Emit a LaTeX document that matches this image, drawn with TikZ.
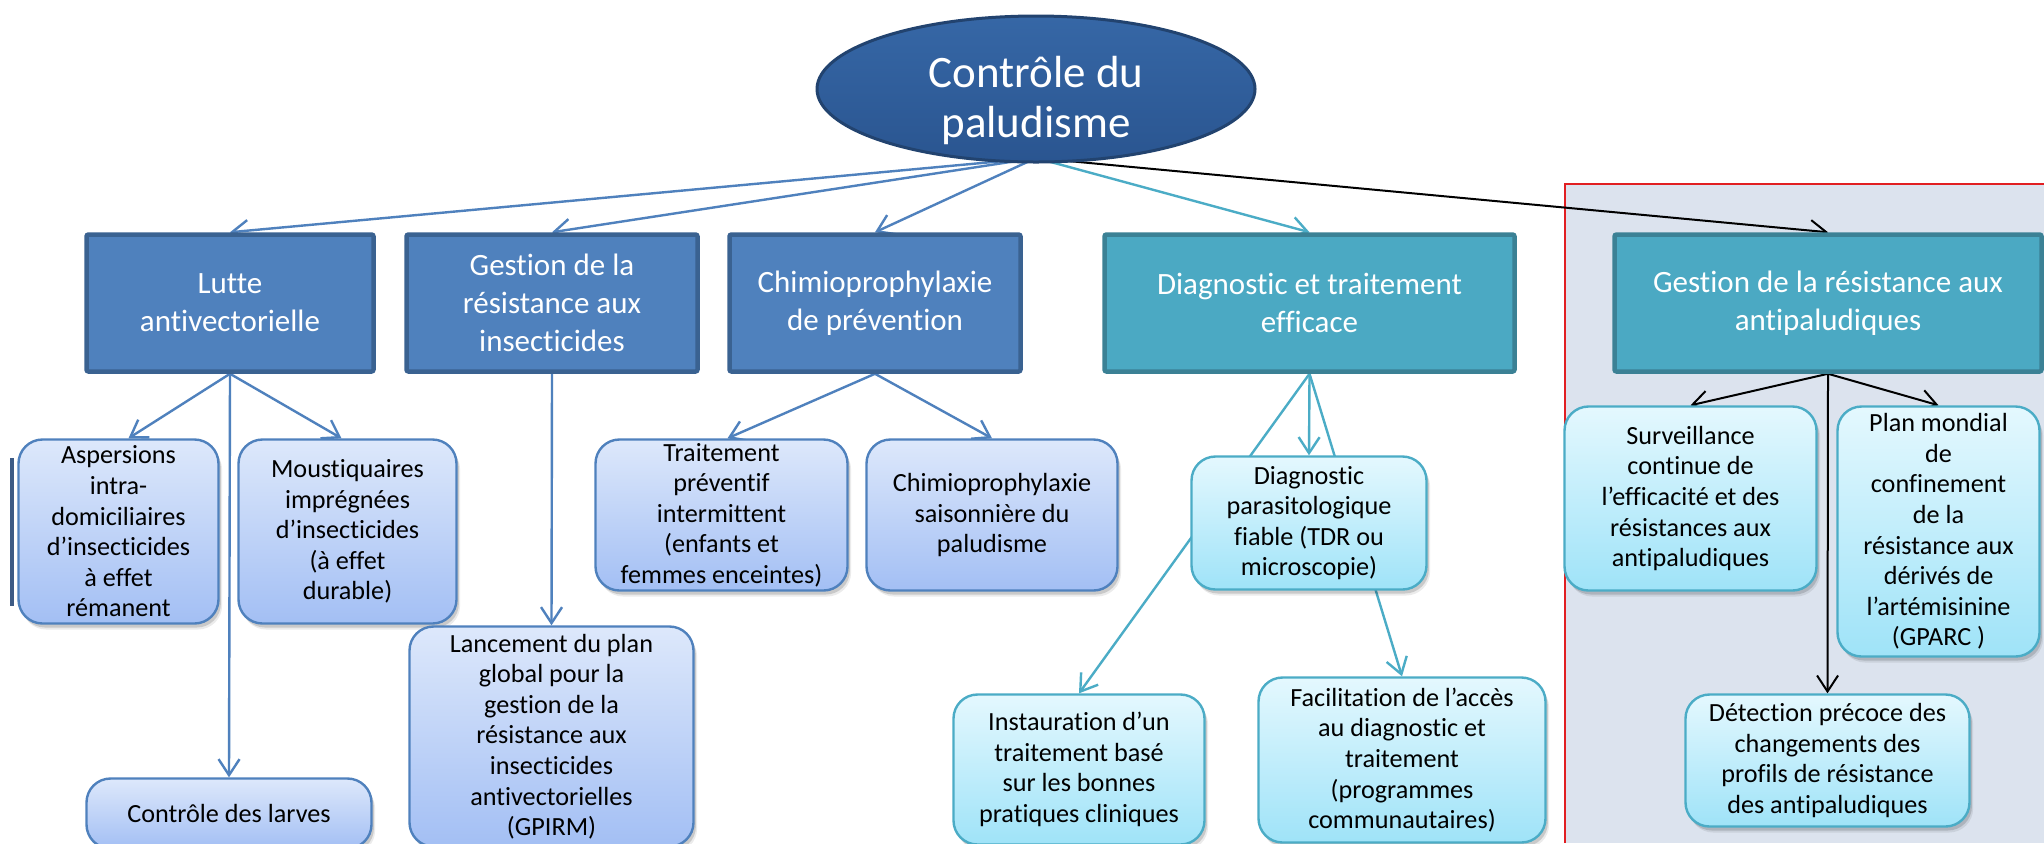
\documentclass[tikz,border=0pt]{standalone}
\usepackage{fontspec}
\setmainfont{Carlito}[Ligatures=NoCommon]
\usetikzlibrary{arrows.meta,shapes.geometric,shadows}

% palette
\definecolor{rootA}{HTML}{3667A6}
\definecolor{rootB}{HTML}{2A5590}
\definecolor{rootedge}{HTML}{22436F}
\definecolor{topblue}{HTML}{4F81BD}
\definecolor{topblueedge}{HTML}{3A6291}
\definecolor{topteal}{HTML}{4BA9C3}
\definecolor{toptealedge}{HTML}{3B8195}
\definecolor{subbluetop}{HTML}{DDE8FB}
\definecolor{subbluebot}{HTML}{A3BFF4}
\definecolor{subblueedge}{HTML}{4F81BD}
\definecolor{subtealtop}{HTML}{E4F8FE}
\definecolor{subtealbot}{HTML}{9FE3F8}
\definecolor{subtealedge}{HTML}{4BACC6}
\definecolor{linkblue}{HTML}{4F81BD}
\definecolor{linkteal}{HTML}{4BACC6}
\definecolor{panelfill}{HTML}{DCE3EE}
\definecolor{paneledge}{HTML}{E11F22}
\definecolor{edgebar}{HTML}{3D5B85}

\pgfdeclarelayer{panel}
\pgfdeclarelayer{links}
\pgfsetlayers{panel,links,main}

\tikzset{
  rootnode/.style={ellipse, draw=rootedge, line width=1.5pt,
    top color=rootA, bottom color=rootB, text=white,
    inner sep=0pt, font=\fontsize{22.5pt}{25pt}\selectfont},
  topbox/.style={draw, line width=2.25pt, rounded corners=1pt, text=white,
    align=center, inner sep=0pt, font=\fontsize{15.5pt}{19pt}\selectfont},
  bluetop/.style={topbox, fill=topblue, draw=topblueedge},
  tealtop/.style={topbox, fill=topteal, draw=toptealedge},
  subbox/.style={draw, line width=1.2pt, rounded corners=12pt, align=center,
    inner sep=0pt, font=\fontsize{13.1pt}{15.3pt}\selectfont,
    drop shadow={shadow xshift=1.8pt, shadow yshift=-3pt, fill=black, opacity=0.08},
    drop shadow={shadow xshift=1.2pt, shadow yshift=-2pt, fill=black, opacity=0.14}},
  bluesub/.style={subbox, draw=subblueedge, top color=subbluetop, bottom color=subbluebot},
  tealsub/.style={subbox, draw=subtealedge, top color=subtealtop, bottom color=subtealbot},
  link/.style={line width=1.2pt, -{Straight Barb[length=8pt,width=10.5pt]}},
  bluelink/.style={link, draw=linkblue},
  teallink/.style={link, draw=linkteal},
  blacklink/.style={link, draw=black, line width=1pt},
}

% box placed by its outer edges, given in pixels
\newcommand\pxnode[7]{%
  \node[#1, minimum width={(#5-#3-3)*0.5pt}, minimum height={(#6-#4-3)*0.5pt}]
    (#2) at ({(#3+#5)/2},{(#4+#6)/2}) {#7};}

\begin{document}
\begin{tikzpicture}[x=0.5pt,y=-0.5pt]
\useasboundingbox (0,0) rectangle (2044,843);

% framed panel on the right, and the dark edge left of the first box
\begin{pgfonlayer}{panel}
  \fill[white] (0,0) rectangle (2044,843);
  \fill[panelfill] (1565,184) rectangle (2044,843);
  \draw[paneledge, line width=1.2pt] (1565,843) -- (1565,184) -- (2044,184);
  \draw[edgebar, line width=2pt] (12,458) -- (12,606);
\end{pgfonlayer}

% root
\node[rootnode, minimum width=219pt, minimum height=73pt] (root) at (1036,89)
  {\raisebox{-6.5pt}[\height][\depth]{\begin{tabular}{@{}c@{}}Contrôle du\\paludisme\end{tabular}}};

% first level
\pxnode{bluetop}{lutte}{85}{233}{375}{373}{Lutte\\antivectorielle}
\pxnode{bluetop}{gri}{405}{233}{699}{373}{Gestion de la\\résistance aux\\insecticides}
\pxnode{bluetop}{chimio}{728}{233}{1022}{373}{Chimioprophylaxie\\de prévention}
\pxnode{tealtop}{diag}{1103}{233}{1516}{373}{Diagnostic et traitement\\efficace}
\pxnode{tealtop}{gra}{1613}{233}{2043}{373}{Gestion de la résistance aux\\antipaludiques}

% second level
\pxnode{bluesub}{asp}{17}{438}{220}{625}{Aspersions\\intra-\\domiciliaires\\d’insecticides\\à effet\\rémanent}
\pxnode{bluesub}{mou}{237}{438}{458}{625}{Moustiquaires\\imprégnées\\d’insecticides\\(à effet\\durable)}
\pxnode{bluesub}{larves}{85}{777}{373}{850}{Contrôle des larves}
\pxnode{bluesub}{lanc}{408}{625}{695}{848}{Lancement du plan\\global pour la\\gestion de la\\résistance aux\\insecticides\\antivectorielles\\(GPIRM)}
\pxnode{bluesub}{tpi}{594}{438}{849}{592}{Traitement\\préventif\\intermittent\\(enfants et\\femmes enceintes)}
\pxnode{bluesub}{csp}{865}{438}{1119}{592}{Chimioprophylaxie\\saisonnière du\\paludisme}
\pxnode{tealsub}{dpf}{1190}{455}{1428}{591}{Diagnostic\\parasitologique\\fiable (TDR ou\\microscopie)}
\pxnode{tealsub}{inst}{952}{693}{1206}{846}{Instauration d’un\\traitement basé\\sur les bonnes\\pratiques cliniques}
\pxnode{tealsub}{fac}{1257}{676}{1547}{844}{Facilitation de l’accès\\au diagnostic et\\traitement\\(programmes\\communautaires)}
\pxnode{tealsub}{surv}{1563}{405}{1818}{592}{Surveillance\\continue de\\l’efficacité et des\\résistances aux\\antipaludiques}
\pxnode{tealsub}{plan}{1836}{405}{2041}{658}{Plan mondial\\de\\confinement\\de la\\résistance aux\\dérivés de\\l’artémisinine\\(GPARC )}
\pxnode{tealsub}{det}{1684}{693}{1971}{828}{Détection précoce des\\changements des\\profils de résistance\\des antipaludiques}

% connectors
\begin{pgfonlayer}{links}
  \coordinate (hub) at (1036,158);
  \draw[bluelink] (hub) -- (lutte.north);
  \draw[bluelink] (hub) -- (gri.north);
  \draw[bluelink] (hub) -- (chimio.north);
  \draw[teallink] (hub) -- (diag.north);
  \draw[blacklink] (hub) -- (gra.north);

  \draw[bluelink] (lutte.south) -- ([xshift=5pt]asp.north);
  \draw[bluelink] (lutte.south) -- ([xshift=-3pt]mou.north);
  \draw[bluelink] (lutte.south) -- (larves.north);
  \draw[bluelink] (gri.south) -- (lanc.north);
  \draw[bluelink] (chimio.south) -- ([xshift=3pt]tpi.north);
  \draw[bluelink] (chimio.south) -- (csp.north);

  \draw[teallink] (diag.south) -- (dpf.north);
  \draw[teallink] (diag.south) -- (inst.north);
  \draw[teallink] (diag.south) -- (fac.north);

  \draw[blacklink] (gra.south) -- (surv.north);
  \draw[blacklink] (gra.south) -- (plan.north);
  \draw[blacklink] (gra.south) -- (det.north);
\end{pgfonlayer}
\end{tikzpicture}
\end{document}
